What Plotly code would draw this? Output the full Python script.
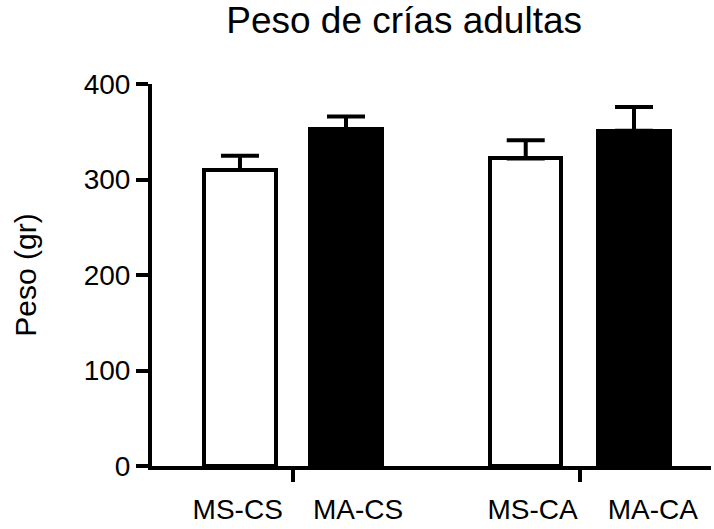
import plotly.graph_objects as go

categories = ["MS-CS", "MA-CS", "MS-CA", "MA-CA"]
means = [310, 353, 322, 351]
errors_up = [15, 13, 19, 25]
fill_colors = ["white", "black", "white", "black"]
y_ticks = [0, 100, 200, 300, 400]

# layout: bar positions (pairs with a wider gap between groups)
positions = [0.0, 1.41, 3.8, 5.24]
label_offsets = [-0.03, 0.16, 0.09, 0.25]
label_positions = [p + o for p, o in zip(positions, label_offsets)]
separators = [(positions[0] + positions[1]) / 2, (positions[2] + positions[3]) / 2]

FONT = "Arial, 'Liberation Sans', Helvetica, sans-serif"

fig = go.Figure()
fig.add_trace(go.Bar(
    x=positions,
    y=means,
    width=0.95,
    marker=dict(color=fill_colors, line=dict(color="black", width=4)),
    error_y=dict(type="data", symmetric=False, array=errors_up,
                 arrayminus=[0] * len(errors_up),
                 color="black", thickness=4, width=19),
    hoverinfo="skip",
    showlegend=False,
))

fig.update_layout(
    width=714, height=529,
    margin=dict(l=152, r=3, t=84, b=63),
    paper_bgcolor="white", plot_bgcolor="white",
    font=dict(family=FONT, color="black"),
    title=dict(text="Peso de crías adultas", x=0.566, xanchor="center",
               y=0.962, yanchor="middle", font=dict(size=37, family=FONT)),
    bargap=0,
    xaxis=dict(
        range=[-1.170, 6.264],
        tickmode="array", tickvals=label_positions, ticktext=categories,
        ticks="", ticklabelstandoff=15,
        tickfont=dict(size=28, family=FONT),
        showline=True, linecolor="black", linewidth=4,
        showgrid=False, zeroline=False,
        minor=dict(tickmode="array", tickvals=separators, ticks="outside",
                   ticklen=12, tickwidth=4, tickcolor="black", showgrid=False),
    ),
    yaxis=dict(
        range=[0, 400],
        tickmode="array", tickvals=y_ticks,
        ticks="outside", ticklen=12, tickwidth=4, tickcolor="black",
        tickfont=dict(size=28, family=FONT),
        showline=True, linecolor="black", linewidth=4,
        showgrid=False, zeroline=False,
        title=dict(text="Peso (gr)", font=dict(size=30, family=FONT), standoff=39),
    ),
)

fig.write_html("out.html")
